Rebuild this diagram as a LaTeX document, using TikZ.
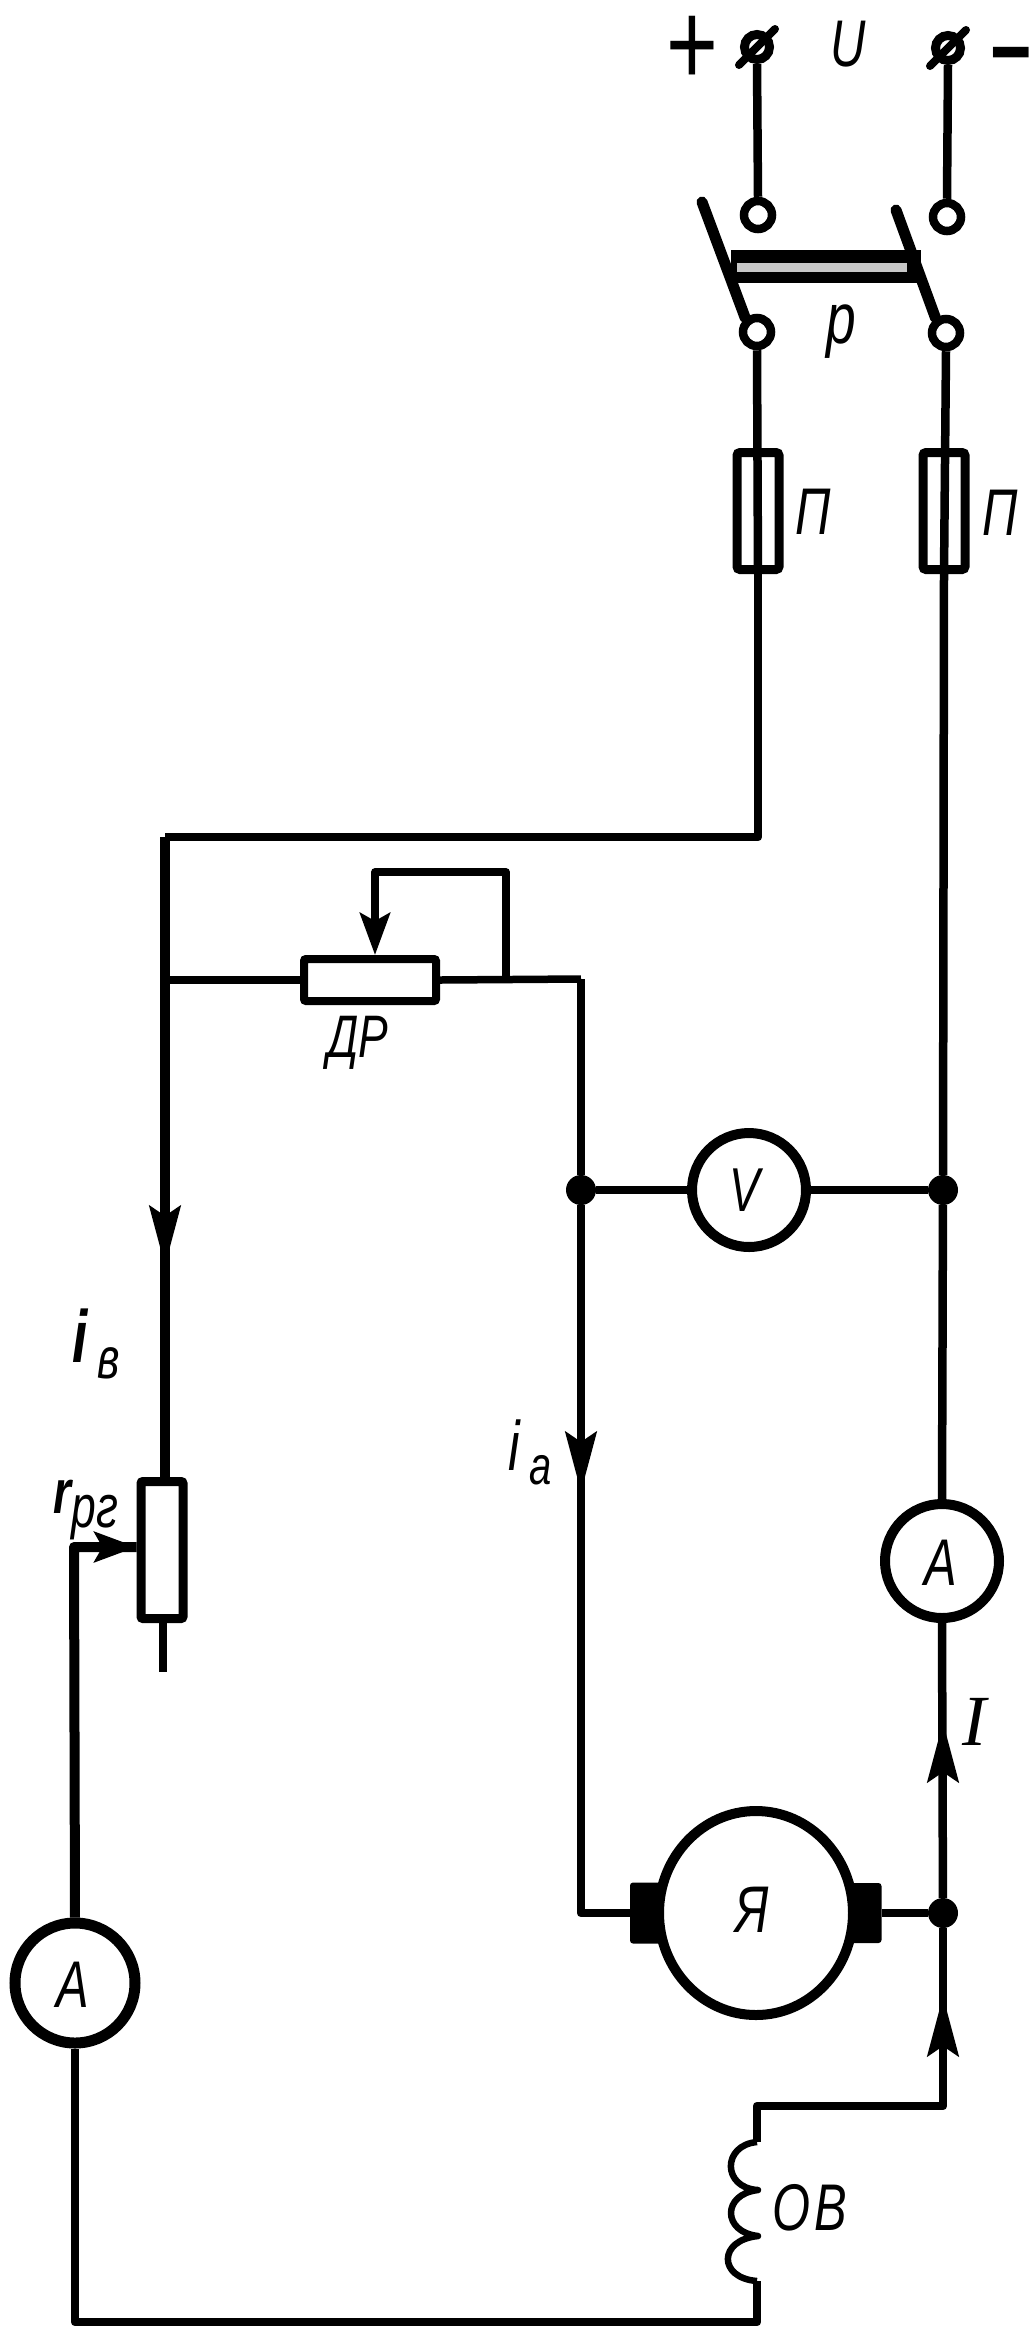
\documentclass[tikz,border=0pt]{standalone}
\usepackage{fontspec}
\setmainfont[FakeStretch=0.74]{Liberation Sans}
\newfontfamily\serifI{Liberation Serif}
\usetikzlibrary{arrows.meta,shapes.geometric}
\newcommand{\fsz}[1]{\fontsize{#1}{#1}\selectfont}
\tikzset{
  wire/.style={line width=8.5pt,line join=round,black},
  thickwire/.style={line width=10pt,line join=round,black},
  thinwire/.style={line width=7.5pt,line join=round,black},
  blade/.style={line width=11pt,line cap=round,black},
  ring/.style={circle,draw=black,line width=8.5pt,inner sep=0pt,minimum size=28pt},
  meter/.style={circle,draw=black,line width=10pt,inner sep=0pt,minimum size=114pt},
  dot/.style={circle,fill=black,inner sep=0pt,minimum size=30pt},
  fuse/.style={rectangle,draw=black,line width=9pt,rounded corners=3pt,inner sep=0pt,minimum width=42pt,minimum height=117pt},
  resbox/.style={rectangle,draw=black,line width=8pt,rounded corners=2pt,inner sep=0pt},
  brush/.style={rectangle,fill=black,rounded corners=3pt,inner sep=0pt},
  lab/.style={inner sep=0pt,font=\fsz{66}\itshape},
  tipa/.style={-{Stealth[length=60pt,width=31pt,inset=10pt]}},
  tipb/.style={-{Stealth[length=42pt,width=30pt,inset=8pt]}}
}
\begin{document}
\begin{tikzpicture}[x=1pt,y=-1pt]
\path[use as bounding box,fill=white] (0,0) rectangle (1033,2346);

% terminals and switch
\node[ring,minimum size=25pt,line width=9pt] (tp) at (757,47) {};
\node[ring,minimum size=25pt,line width=9pt] (tm) at (948,48) {};
\draw[line width=8pt,line cap=round] (tp.center) ++(-18,18) -- ++(36,-36);
\draw[line width=8pt,line cap=round] (tm.center) ++(-18,18) -- ++(36,-36);
\node[ring] (u1) at (758,215) {};
\node[ring] (u2) at (947,217) {};
\node[ring] (d1) at (757,332) {};
\node[ring] (d2) at (946,333) {};
\draw[wire] (tp.south) -- (u1.north);
\draw[wire] (tm.south) -- (u2.north);
\coordinate (b1) at (702,202);
\coordinate (b2) at (896,210);
\draw[blade] (b1) -- (d1.130);
\draw[blade] (b2) -- (d2.125);
\node[rectangle,fill=black,inner sep=0pt,minimum width=190pt,minimum height=33pt] (bar) at (826,266) {};
\node[rectangle,fill=black!22,inner sep=0pt,minimum width=170pt,minimum height=9pt] (barin) at (822,267) {};

% fuses
\node[fuse] (f1) at (758,511) {};
\node[fuse] (f2) at (944,511) {};
\draw[wire] (d1.south) -- (f1.south);
\draw[wire] (d2.south) -- (f2.south);

% shunt regulator
\node[resbox,minimum width=132pt,minimum height=42pt] (dr) at (370,980) {};
\coordinate (topR) at (758,837);
\coordinate (topL) at (165,837);
\coordinate (tapL) at (165,980);
\coordinate (tapR) at (506,979);
\coordinate (corner) at (581,979);
\coordinate (loopA) at (506,872);
\coordinate (loopB) at (375,872);
\coordinate (drtail) at (375,905);
\draw[wire] (f1.south) -- (topR) -- (topL);
\draw[thickwire] (topL) -- (tapL);
\draw[thinwire] (tapL) -- (dr.west);
\draw[thinwire] (dr.east) -- (corner);
\draw[thinwire] (tapR) -- (loopA) -- (loopB) -- (drtail);
\draw[thinwire,tipb] (drtail) -- (drtail |- dr.north);

% junctions, voltmeter
\node[dot] (jl) at (581,1190) {};
\node[dot] (jr) at (943,1190) {};
\node[meter] (vm) at (749,1190) {};
\draw[thinwire] (jl) -- (vm.west);
\draw[thinwire] (vm.east) -- (jr);
\draw[wire] (corner) -- (jl);
\draw[wire] (f2.south) -- (jr);

% armature
\node[ellipse,draw=black,line width=10pt,inner sep=0pt,minimum width=194pt,minimum height=204pt] (mot) at (756,1913) {};
\node[brush,minimum width=32pt,minimum height=61pt] (bl) at (646,1913) {};
\node[brush,minimum width=31pt,minimum height=60pt] (br) at (866,1913) {};
\node[dot] (jm) at (943,1913) {};
\coordinate (aL) at (581,1913);
\draw[wire] (jl) -- (aL) -- (bl.west);
\draw[thinwire] (br.east) -- (jm);

% right ammeter
\node[meter] (am) at (942,1561) {};
\draw[wire] (jr) -- (am.north);
\draw[wire] (jm) -- (am.south);

% excitation branch
\coordinate (e1) at (943,2106);
\coordinate (e2) at (757,2106);
\coordinate (c0) at (757,2142);
\coordinate (c1) at (758,2190);
\coordinate (c2) at (758,2236);
\coordinate (c3) at (757,2281);
\coordinate (e3) at (757,2322);
\coordinate (e4) at (75,2322);
\node[meter,minimum size=120pt,line width=11pt] (aml) at (75,1983) {};
\draw[wire] (jm) -- (e1) -- (e2) -- (c0);
\draw[wire,line width=6.5pt] (c0) .. controls (722,2145) and (722,2188) .. (c1)
   .. controls (722,2194) and (722,2232) .. (c2)
   .. controls (718,2240) and (718,2278) .. (c3);
\draw[wire] (c3) -- (e3) -- (e4) -- (aml.south);

% rheostat in the field circuit
\node[resbox,minimum width=42pt,minimum height=137pt,line width=9pt] (rg) at (162,1550) {};
\coordinate (rgend) at (163,1672);
\coordinate (rgc) at (74,1547);
\draw[thickwire] (tapL) -- (tapL |- rg.north);
\draw[wire] (rgend |- rg.south) -- (rgend);
\draw[thickwire] (aml.north) -- (rgc) -- (rg.west |- rgc);

% arrows on the wires
\coordinate (a1s) at (165,1190);
\coordinate (a1e) at (165,1266);
\draw[wire,tipa] (a1s) -- (a1e);
\coordinate (a2s) at (581,1420);
\coordinate (a2e) at (581,1492);
\draw[wire,tipa] (a2s) -- (a2e);
\coordinate (a3s) at (943,1795);
\coordinate (a3e) at (943,1722);
\draw[wire,tipa] (a3s) -- (a3e);
\coordinate (a4s) at (943,2070);
\coordinate (a4e) at (943,1996);
\draw[wire,tipa] (a4s) -- (a4e);
\coordinate (a5s) at (90,1547);
\draw[wire,tipb] (a5s) -- (rg.west |- a5s);

% labels
\node[inner sep=0pt,font=\fsz{120}] (plus) at (692,51) {+};
\node[inner sep=0pt,font=\fsz{96}\bfseries] (minus) at (1011,66) {−};
\node[lab] (lU) at (848,44) {U};
\node[lab,font=\fsz{72}\itshape] (lp) at (841,332) {р};
\node[lab] (lf1) at (813,512) {П};
\node[lab] (lf2) at (1000,513) {П};
\node[lab,font=\fsz{60}\itshape] (ldr) at (358,1043) {ДР};
\node[lab,font=\fsz{62}\itshape] (lv) at (745,1190) {V};
\node[lab] (la1) at (941,1563) {A};
\node[lab] (la2) at (73,1985) {A};
\node[lab,font=\fsz{72}\serifI\itshape] (lI) at (974,1722) {I};
\node[lab] (lm) at (752,1910) {Я};
\node[lab] (lob) at (810,2208) {О\hspace{4pt}В};
\node[lab,font=\fsz{74}\bfseries\itshape] (liv) at (96,1344) {i\raisebox{-16pt}{\fsz{58}\mdseries\,в}};
\node[lab,font=\fsz{70}\itshape] (lia) at (530,1452) {i\raisebox{-14pt}{\fsz{54}\,a}};
\node[lab,font=\fsz{62}\itshape] (lr) at (86,1510) {\textbf{r}\raisebox{-14pt}{\fsz{60}рг}};
\end{tikzpicture}
\end{document}
